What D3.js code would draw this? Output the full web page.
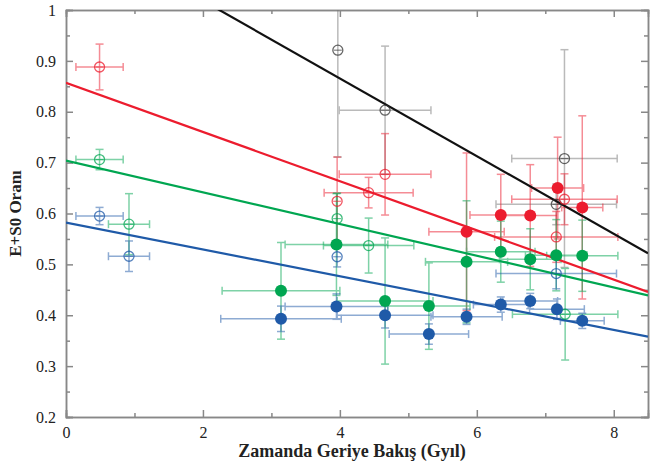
<!DOCTYPE html>
<html>
<head>
<meta charset="utf-8">
<script src="https://cdn.jsdelivr.net/npm/d3@7"></script>
<style>
body{margin:0;background:#fff;}
.tick text{font-family:"Liberation Serif","DejaVu Serif",serif;font-size:16px;fill:#222;}
.axis path,.axis line{stroke:#888;}
</style>
</head>
<body>
<div id="canvas"></div>
<script>
// x, y, xerr, yerr
var blackOpen=[[3.97,0.921,0,0.21],[4.66,0.803,0.67,0.126],[7.28,0.708,0.77,0.214],[7.16,0.618,0.88,0.04]];
var redOpen=[[0.49,0.888,0.345,0.045],[3.96,0.624,0,0.087],[4.42,0.641,0.65,0.03],[4.66,0.677,0.67,0.08],[7.16,0.554,0.9,0.05],[7.28,0.628,0.77,0.05]];
var redFilled=[[5.85,0.564,0.55,0.155],[6.35,0.597,0.45,0.08],[6.78,0.596,0.4,0.10],[7.18,0.650,0.38,0.10],[7.54,0.612,0.3,0.18]];
var greenOpen=[[0.49,0.706,0.345,0.02],[0.92,0.579,0.3,0.06],[3.96,0.590,0,0.05],[4.42,0.537,0.66,0.054],[7.29,0.402,0.77,0.09]];
var greenFilled=[[3.14,0.448,0.86,0.095],[3.95,0.539,0.75,0.1],[4.66,0.428,0.7,0.124],[5.30,0.418,0.6,0.085],[5.85,0.505,0.6,0.12],[6.35,0.525,0.5,0.06],[6.78,0.510,0.45,0.06],[7.16,0.518,0.45,0.07],[7.54,0.517,0.52,0.07]];
var blueOpen=[[0.49,0.595,0.345,0.017],[0.92,0.516,0.3,0.03],[3.96,0.515,0,0.02],[7.16,0.482,0.88,0.03]];
var blueFilled=[[3.14,0.393,0.88,0.025],[3.95,0.417,0.75,0.025],[4.66,0.400,0.7,0.025],[5.30,0.363,0.58,0.02],[5.85,0.397,0.52,0.015],[6.35,0.421,0.4,0.015],[6.78,0.428,0.4,0.015],[7.17,0.412,0.4,0.02],[7.54,0.389,0.32,0.015]];
// fit lines: [x0,y0],[x1,y1]
var fitBlack=[[0,1.171],[8.5,0.522]];
var fitRed=[[0,0.857],[8.5,0.446]];
var fitGreen=[[0,0.704],[8.5,0.439]];
var fitBlue=[[0,0.582],[8.5,0.358]];
var xTicks=[0,2,4,6,8], yTicks=[0.2,0.3,0.4,0.5,0.6,0.7,0.8,0.9,1];

var m={t:10,r:9,b:49,l:66};
var W=657,H=466,w=W-m.l-m.r,h=H-m.t-m.b;

var svg=d3.select('#canvas').append('svg').attr('width',W).attr('height',H);
var plot=svg.append('g').attr('transform','translate('+m.l+','+m.t+')');

var x=d3.scaleLinear().domain([0,8.5]).range([0,w]);
var y=d3.scaleLinear().domain([0.2,1]).range([h,0]);

svg.append('defs').append('clipPath').attr('id','clip')
	.append('rect').attr('width',w).attr('height',h);

//axes, ticks inside on all four sides
function axes(){
	var minX=d3.range(1,9,2), minY=d3.range(0.25,1,0.1);
	plot.append('g').attr('class','axis').attr('transform','translate(0,'+h+')')
		.call(d3.axisBottom(x).tickValues(xTicks).tickSize(-7).tickPadding(10).tickFormat(d3.format('d')));
	plot.append('g').attr('class','axis minor').attr('transform','translate(0,'+h+')')
		.call(d3.axisBottom(x).tickValues(minX).tickSize(-4).tickFormat(''));
	plot.append('g').attr('class','axis')
		.call(d3.axisTop(x).tickValues(xTicks).tickSize(-7).tickFormat(''));
	plot.append('g').attr('class','axis minor')
		.call(d3.axisTop(x).tickValues(minX).tickSize(-4).tickFormat(''));
	plot.append('g').attr('class','axis')
		.call(d3.axisLeft(y).tickValues(yTicks).tickSize(-7).tickPadding(10).tickFormat(function(d){return d==1?'1':d3.format('.1f')(d)}));
	plot.append('g').attr('class','axis minor')
		.call(d3.axisLeft(y).tickValues(minY).tickSize(-4).tickFormat(''));
	plot.append('g').attr('class','axis').attr('transform','translate('+w+',0)')
		.call(d3.axisRight(y).tickValues(yTicks).tickSize(-7).tickFormat(''));
	plot.append('g').attr('class','axis minor').attr('transform','translate('+w+',0)')
		.call(d3.axisRight(y).tickValues(minY).tickSize(-4).tickFormat(''));
	plot.selectAll('.axis path').attr('stroke-width',1.5);
	plot.selectAll('.axis line').attr('stroke-width',1.5);
}
axes();

var layer=plot.append('g').attr('clip-path','url(#clip)');
var errG=layer.append('g'), lineG=layer.append('g'), ptG=layer.append('g');

function errors(data,col){
	var g=errG.append('g').attr('stroke',col).attr('stroke-width',1.5).attr('opacity',0.5).attr('fill','none');
	var cap=4;
	data.forEach(function(d){
		var cx=x(d[0]),cy=y(d[1]);
		if(d[3]>0){
			var y0=y(d[1]-d[3]),y1=y(d[1]+d[3]);
			g.append('line').attr('x1',cx).attr('x2',cx).attr('y1',y0).attr('y2',y1);
			g.append('line').attr('x1',cx-cap).attr('x2',cx+cap).attr('y1',y0).attr('y2',y0);
			g.append('line').attr('x1',cx-cap).attr('x2',cx+cap).attr('y1',y1).attr('y2',y1);
		}
		if(d[2]>0){
			var x0=x(d[0]-d[2]),x1=x(d[0]+d[2]);
			g.append('line').attr('x1',x0).attr('x2',x1).attr('y1',cy).attr('y2',cy);
			g.append('line').attr('x1',x0).attr('x2',x0).attr('y1',cy-cap).attr('y2',cy+cap);
			g.append('line').attr('x1',x1).attr('x2',x1).attr('y1',cy-cap).attr('y2',cy+cap);
		}
	});
}
function openPts(data,col){
	var g=ptG.append('g');
	g.selectAll('circle').data(data).enter().append('circle')
		.attr('cx',function(d){return x(d[0])}).attr('cy',function(d){return y(d[1])})
		.attr('r',5).attr('fill','none').attr('stroke',col).attr('stroke-width',1.3).attr('opacity',0.75);
	g.selectAll('line').data(data).enter().append('line')
		.attr('x1',function(d){return x(d[0])-4}).attr('x2',function(d){return x(d[0])+4})
		.attr('y1',function(d){return y(d[1])}).attr('y2',function(d){return y(d[1])})
		.attr('stroke',col).attr('stroke-width',1.2).attr('opacity',0.6);
}
function filledPts(data,col){
	ptG.append('g').selectAll('circle').data(data).enter().append('circle')
		.attr('cx',function(d){return x(d[0])}).attr('cy',function(d){return y(d[1])})
		.attr('r',6).attr('fill',col);
}
function fit(pts,col){
	lineG.append('path').datum(pts)
		.attr('d',d3.line().x(function(d){return x(d[0])}).y(function(d){return y(d[1])}))
		.attr('stroke',col).attr('stroke-width',2.2).attr('fill','none');
}

var cBlack='#111',cGray='#777',cRed='#ec1c2e',cGreen='#00a651',cBlue='#1f5aa8';
errors(blackOpen,cGray);
errors(redOpen,cRed);errors(redFilled,cRed);
errors(greenOpen,cGreen);errors(greenFilled,cGreen);
errors(blueOpen,cBlue);errors(blueFilled,cBlue);

fit(fitBlue,cBlue);fit(fitGreen,cGreen);fit(fitRed,cRed);fit(fitBlack,cBlack);

openPts(blackOpen,'#333');
openPts(redOpen,cRed);openPts(greenOpen,cGreen);openPts(blueOpen,cBlue);
filledPts(blueFilled,cBlue);filledPts(greenFilled,cGreen);filledPts(redFilled,cRed);

svg.append('text').attr('x',m.l+w/2-5).attr('y',457).attr('text-anchor','middle')
	.style('font-family','"Liberation Serif",serif').style('font-weight','bold').style('font-size','18px').attr('fill','#222')
	.text('Zamanda Geriye Bakış (Gyıl)');
svg.append('text').attr('transform','translate(21,'+(m.t+h/2)+') rotate(-90)').attr('text-anchor','middle')
	.style('font-family','"Liberation Serif",serif').style('font-weight','bold').style('font-size','17px').attr('fill','#222')
	.text('E+S0 Oranı');
</script>
</body>
</html>
